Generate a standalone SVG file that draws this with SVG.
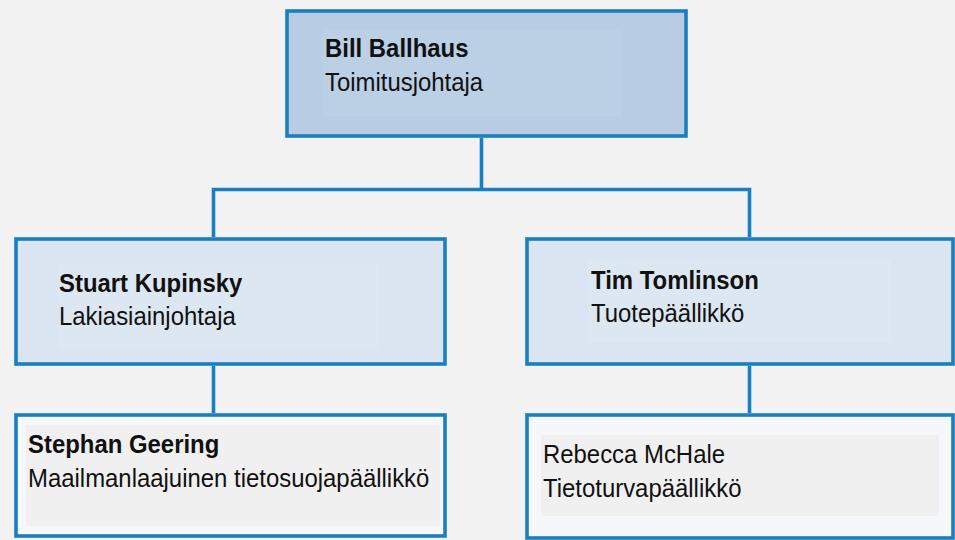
<svg xmlns="http://www.w3.org/2000/svg" width="955" height="540" viewBox="0 0 955 540">
<style>
.box{stroke:#1a7fbf;stroke-width:3.6}
.l1{fill:#b8cce4}
.l2{fill:#dbe5f1}
.l3{fill:#f5f7fb}
.in1{fill:#bbcfe5}
.in2{fill:#dde7f2}
.in3{fill:#f0f0f0}
text{font-family:"Liberation Sans",Arial,sans-serif;font-size:26px;fill:#111}
.b{font-weight:bold}
.conn{fill:none;stroke:#1a7fbf;stroke-width:3.6}
</style>
<rect width="955" height="540" fill="#f2f2f2"/>
<g id="connectors">
<path class="conn" d="M481.5 138V189.5M213.5 237V189.5H749.5V237"/>
<path class="conn" d="M213.5 366V413M749.5 366V413"/>
</g>
<g id="bill">
<rect class="box l1" x="287" y="11" width="399" height="125"/>
<rect class="in1" x="323" y="29" width="299" height="87"/>
<text class="b" transform="matrix(0.92 0 0 1 325 57)">Bill Ballhaus</text>
<text transform="matrix(0.92 0 0 1 325 90.5)">Toimitusjohtaja</text>
</g>
<g id="stuart">
<rect class="box l2" x="16" y="239" width="429" height="125"/>
<rect class="in2" x="58" y="263" width="321" height="86"/>
<text class="b" transform="matrix(0.92 0 0 1 59 292)">Stuart Kupinsky</text>
<text transform="matrix(0.92 0 0 1 59 325)">Lakiasiainjohtaja</text>
</g>
<g id="tim">
<rect class="box l2" x="527" y="239" width="426" height="125"/>
<rect class="in2" x="588" y="260" width="303" height="82"/>
<text class="b" transform="matrix(0.92 0 0 1 591 289)">Tim Tomlinson</text>
<text transform="matrix(0.92 0 0 1 591 322)">Tuotepäällikkö</text>
</g>
<g id="stephan">
<rect class="box l3" x="16" y="415" width="429" height="121"/>
<rect class="in3" x="26" y="425" width="414" height="101"/>
<text class="b" transform="matrix(0.92 0 0 1 28 453)">Stephan Geering</text>
<text transform="matrix(0.92 0 0 1 28 487)">Maailmanlaajuinen tietosuojapäällikkö</text>
</g>
<g id="rebecca">
<rect class="box l3" x="527" y="415" width="426" height="123"/>
<rect class="in3" x="541" y="435" width="398" height="81"/>
<text transform="matrix(0.92 0 0 1 543 463)">Rebecca McHale</text>
<text transform="matrix(0.92 0 0 1 543 497)">Tietoturvapäällikkö</text>
</g>
</svg>
